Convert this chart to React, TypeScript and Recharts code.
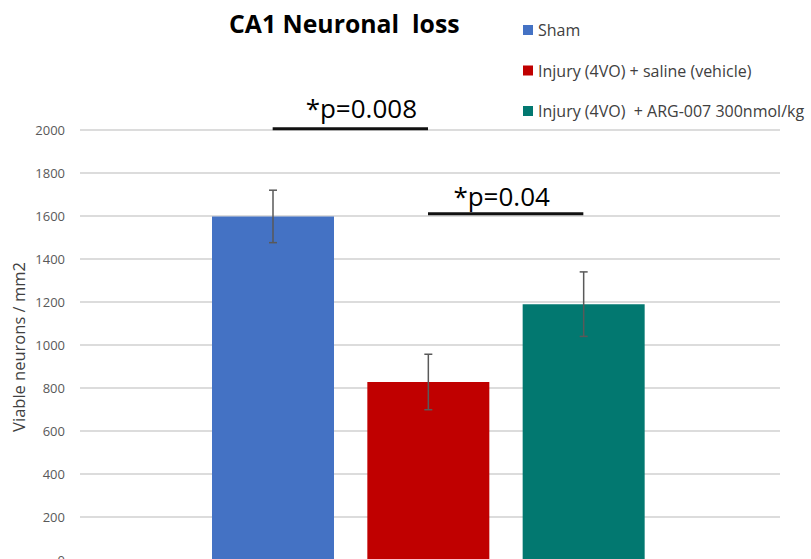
import { BarChart, Bar, XAxis, YAxis, CartesianGrid, Cell, ErrorBar, ReferenceLine } from 'recharts';

const groups = ['Sham', 'Injury (4VO) + saline (vehicle)', 'Injury (4VO)  + ARG-007 300nmol/kg'];
const meanValues = [1598, 828, 1190];
const errorValues = [122, 129, 150];
const barColors = ['#4472C4', '#C00000', '#027870'];
const yTicks = [0, 200, 400, 600, 800, 1000, 1200, 1400, 1600, 1800, 2000];

// significance brackets: from group, to group, height, text
const sigFrom = [0, 1];
const sigTo = [1, 2];
const sigLevel = [2006, 1610];
const sigText = ['*p=0.008', '*p=0.04'];

const data = groups.map((name, i) => ({ name, value: meanValues[i], err: errorValues[i] }));

const FONT = '"Open Sans", sans-serif';

const sigStyle = [
  { offset: 11, dx: 11 },
  { offset: 8, dx: -4 },
];

export default function App() {
  return (
    <div
      style={{
        position: 'fixed',
        left: 0,
        top: 0,
        width: 811,
        height: 559,
        overflow: 'hidden',
        background: '#fff',
        fontFamily: FONT,
      }}
    >
      <BarChart
        width={811}
        height={580}
        data={data}
        margin={{ top: 130, right: 31, left: 0, bottom: 20 }}
        barSize={122}
      >
        <CartesianGrid vertical={false} stroke="#d0d0d0" strokeWidth={1.5} />
        <XAxis dataKey="name" hide padding={{ left: 115, right: 119 }} />
        <YAxis
          width={80}
          domain={[0, 2000]}
          ticks={yTicks}
          axisLine={false}
          tickLine={false}
          tickMargin={9}
          tick={{ fill: '#595959', fontSize: 13, fontFamily: FONT }}
          label={({ viewBox }: any) => {
            const cx = viewBox.x + 18;
            const cy = viewBox.y + viewBox.height / 2 + 2;
            return (
              <text
                x={cx}
                y={cy}
                transform={`rotate(-90, ${cx}, ${cy})`}
                textAnchor="middle"
                dominantBaseline="central"
                fill="#404040"
                fontSize={16.5}
                fontFamily={FONT}
              >
                Viable neurons / mm2
              </text>
            );
          }}
        />
        <Bar dataKey="value" isAnimationActive={false}>
          {data.map((entry, i) => (
            <Cell key={entry.name} fill={barColors[i]} />
          ))}
          <ErrorBar dataKey="err" direction="y" width={4} stroke="#595959" strokeWidth={1.5} />
        </Bar>
        {sigText.map((t, i) => (
          <ReferenceLine
            key={t}
            ifOverflow="visible"
            segment={[
              { x: groups[sigFrom[i]], y: sigLevel[i] },
              { x: groups[sigTo[i]], y: sigLevel[i] },
            ]}
            stroke="#111"
            strokeWidth={3}
            label={{
              value: t,
              position: 'top',
              offset: sigStyle[i].offset,
              dx: sigStyle[i].dx,
              fill: '#000',
              fontSize: 26,
              fontFamily: FONT,
            }}
          />
        ))}
      </BarChart>

      <svg
        width={811}
        height={130}
        style={{ position: 'absolute', left: 0, top: 0, pointerEvents: 'none' }}
      >
        <text x={229} y={33} fontSize={24.8} fontWeight="bold" fill="#000" fontFamily={FONT} style={{ whiteSpace: 'pre' }}>
          CA1 Neuronal  loss
        </text>
        {groups.map((g, i) => (
          <g key={g}>
            <rect x={523} y={25 + i * 40.5} width={10} height={10} fill={barColors[i]} />
            <text
              x={538}
              y={36 + i * 40.5}
              fontSize={16}
              fill="#404040"
              fontFamily={FONT}
              style={{ whiteSpace: 'pre' }}
            >
              {g}
            </text>
          </g>
        ))}
      </svg>
    </div>
  );
}
